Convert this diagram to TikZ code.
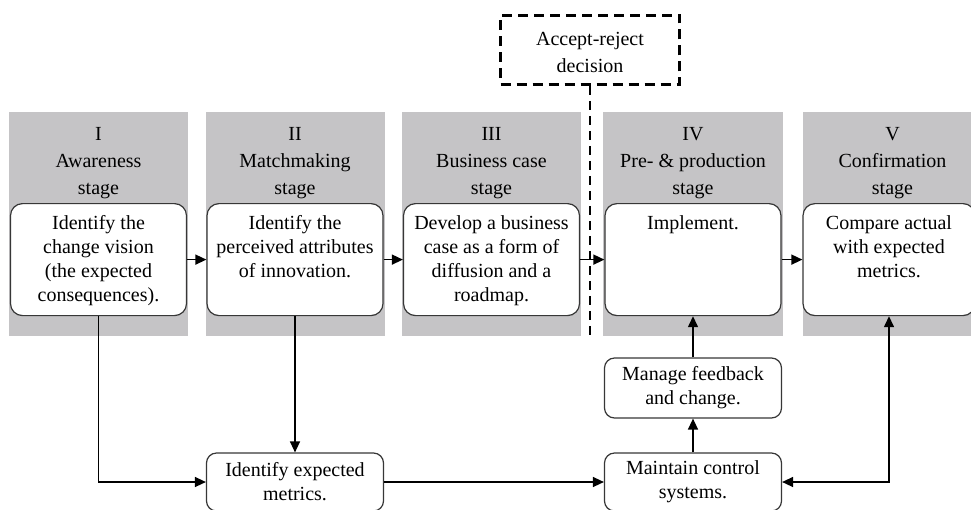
\documentclass[tikz,border=0pt]{standalone}
\usepackage{fontspec}
\setmainfont{Liberation Serif}
\usetikzlibrary{arrows.meta}
\definecolor{panelgray}{RGB}{197,196,198}
\definecolor{edgegray}{RGB}{55,55,55}
% fixed-height box whose lines start at the top
\newcommand\toptext[3]{\parbox[c][#1][t]{#2}{\centering #3}}

\begin{document}
\begin{tikzpicture}[x=1pt,y=-1pt,
  font=\fontsize{20}{24}\selectfont,
  panel/.style={fill=panelgray, inner xsep=0pt, inner ysep=15pt, anchor=north,
    font=\fontsize{20}{27}\selectfont},
  stagebox/.style={draw=edgegray, line width=1.2pt, fill=white, rounded corners=12pt,
    inner xsep=0pt, inner ysep=12pt, anchor=north},
  smallbox/.style={draw=edgegray, line width=1.2pt, fill=white, rounded corners=10pt,
    minimum width=177pt, align=center, inner sep=2pt},
  decision/.style={draw, line width=2.8pt, dash pattern=on 10pt off 6pt,
    inner xsep=0pt, inner ysep=17pt, anchor=north, font=\fontsize{20}{27}\selectfont},
  decisionline/.style={line width=2.8pt, dash pattern=on 9pt off 6pt},
  tip/.tip={Triangle[length=11pt,width=10pt]},
  conn/.style={line width=1.4pt, -tip},
  twoway/.style={line width=1.4pt, tip-tip}]

\useasboundingbox (0,0) rectangle (971,509);
\clip (0,0) rectangle (971,509);

% stage panels
\node[panel] (p1) at (98.5,112) {\toptext{194pt}{179pt}{I\\Awareness\\stage}};
\node[panel] (p2) at (295,112) {\toptext{194pt}{179pt}{II\\Matchmaking\\stage}};
\node[panel] (p3) at (491.5,112) {\toptext{194pt}{179pt}{III\\Business case\\stage}};
\node[panel] (p4) at (693,112) {\toptext{194pt}{180pt}{IV\\Pre- \& production\\stage}};
\node[panel] (p5) at (892.5,112) {\toptext{194pt}{179pt}{V\\Confirmation\\stage}};

% accept-reject decision and its cut line
\node[decision] (dec) at (590,14) {\toptext{35pt}{179pt}{Accept-reject\\decision}};
\coordinate (cut) at (591,336);
\draw[decisionline] (dec.south) -- (dec.south |- cut);

% activities inside the stages
\node[stagebox] (b1) at (98.5,203) {\toptext{88pt}{176pt}{Identify the\\change vision\\(the expected\\consequences).}};
\node[stagebox] (b2) at (295,203) {\toptext{88pt}{176pt}{Identify the\\perceived attributes\\of innovation.}};
\node[stagebox] (b3) at (491.5,203) {\toptext{88pt}{176pt}{Develop a business\\case as a form of\\diffusion and a\\roadmap.}};
\node[stagebox] (b4) at (693,203) {\toptext{88pt}{176pt}{Implement.}};
\node[stagebox] (b5) at (889,203) {\toptext{88pt}{172pt}{Compare actual\\with expected\\metrics.}};

% supporting activities
\node[smallbox, minimum height=58pt] (ex) at (295,482) {Identify expected\\metrics.};
\node[smallbox, minimum height=58pt] (mt) at (693,482) {Maintain control\\systems.};
\node[smallbox, minimum height=60pt] (mg) at (693,388) {Manage feedback\\and change.};

% main flow
\draw[conn] (b1) -- (b2);
\draw[conn] (b2) -- (b3);
\draw[conn] (b3) -- (b4);
\draw[conn] (b4) -- (b5);

% control loop
\draw[conn] (b1.south) |- (ex.west);
\draw[conn] (b2.south) -- (ex.north);
\draw[conn] (ex.east) -- (mt.west);
\draw[conn] (mt.north) -- (mg.south);
\draw[conn] (mg.north) -- (b4.south);
\draw[twoway] (b5.south) |- (mt.east);
\end{tikzpicture}
\end{document}
